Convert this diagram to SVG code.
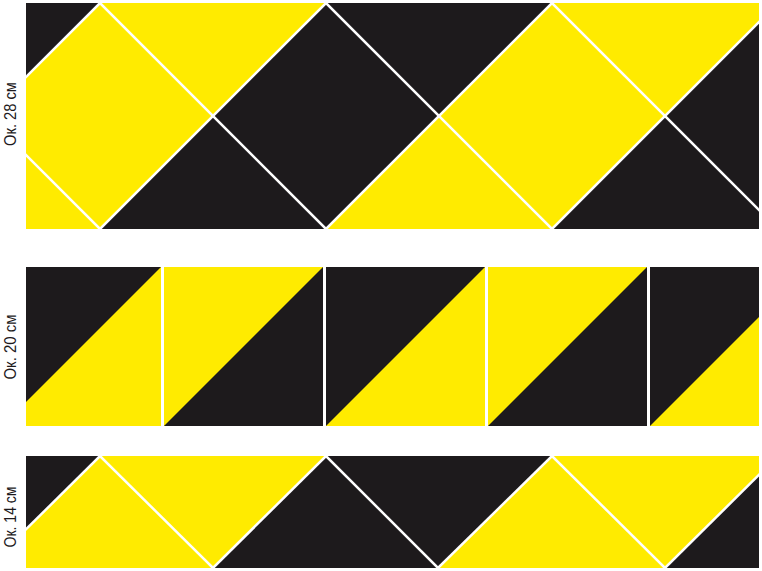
<svg xmlns="http://www.w3.org/2000/svg" width="762" height="571" viewBox="0 0 762 571">
<style>
.y{fill:#FFEB00}
.k{fill:#1D1A1C}
.ln{stroke:#FFFFFF;stroke-width:2.5;fill:none}
.lbl{font-family:"Liberation Sans","DejaVu Sans",sans-serif;font-size:17px;fill:#1D1A1C;text-anchor:middle}
</style>
<defs>
<clipPath id="cTop"><rect x="26" y="3" width="733" height="226"/></clipPath>
<clipPath id="cBot"><rect x="26" y="456" width="733" height="112"/></clipPath>
</defs>
<rect width="762" height="571" fill="#FFFFFF"/>

<g id="band28" clip-path="url(#cTop)">
  <rect class="k" x="26" y="3" width="733" height="226"/>
  <polygon class="y" points="-126,229 -13,116 100,3 326,3 213,116 100,229"/>
  <polygon class="y" points="326,229 439,116 552,3 778,3 665,116 552,229"/>
  <g id="band28-lines">
    <line class="ln" x1="-126" y1="3" x2="100" y2="229"/>
    <line class="ln" x1="100" y1="3" x2="326" y2="229"/>
    <line class="ln" x1="326" y1="3" x2="552" y2="229"/>
    <line class="ln" x1="552" y1="3" x2="778" y2="229"/>
    <line class="ln" x1="100" y1="3" x2="-126" y2="229"/>
    <line class="ln" x1="326" y1="3" x2="100" y2="229"/>
    <line class="ln" x1="552" y1="3" x2="326" y2="229"/>
    <line class="ln" x1="778" y1="3" x2="552" y2="229"/>
  </g>
</g>

<g id="band20">
  <g id="tile1">
    <rect class="k" x="26" y="267" width="135" height="159"/>
    <polygon class="y" points="26,402 161,267 161,426 26,426"/>
  </g>
  <g id="tile2">
    <rect class="y" x="164" y="267" width="159" height="159"/>
    <polygon class="k" points="323,267 323,426 164,426"/>
  </g>
  <g id="tile3">
    <rect class="k" x="326" y="267" width="159" height="159"/>
    <polygon class="y" points="485,267 485,426 326,426"/>
  </g>
  <g id="tile4">
    <rect class="y" x="488" y="267" width="159" height="159"/>
    <polygon class="k" points="647,267 647,426 488,426"/>
  </g>
  <g id="tile5">
    <rect class="k" x="650" y="267" width="109" height="159"/>
    <polygon class="y" points="650,426 759,317 759,426"/>
  </g>
</g>

<g id="band14" clip-path="url(#cBot)">
  <rect class="k" x="26" y="456" width="733" height="112"/>
  <polygon class="y" points="-13,568 100,456 326,456 213,568"/>
  <polygon class="y" points="438,568 552,456 778,456 665,568"/>
  <g id="band14-lines">
    <line class="ln" x1="-13" y1="568" x2="100" y2="456"/>
    <line class="ln" x1="100" y1="456" x2="213" y2="568"/>
    <line class="ln" x1="213" y1="568" x2="326" y2="456"/>
    <line class="ln" x1="326" y1="456" x2="438" y2="568"/>
    <line class="ln" x1="438" y1="568" x2="552" y2="456"/>
    <line class="ln" x1="552" y1="456" x2="665" y2="568"/>
    <line class="ln" x1="665" y1="568" x2="778" y2="456"/>
  </g>
</g>

<g id="labels">
  <text class="lbl" transform="translate(16,114) rotate(-90)" textLength="64" lengthAdjust="spacingAndGlyphs">Ок. 28 см</text>
  <text class="lbl" transform="translate(16,347) rotate(-90)" textLength="65" lengthAdjust="spacingAndGlyphs">Ок. 20 см</text>
  <text class="lbl" transform="translate(16,517) rotate(-90)" textLength="61" lengthAdjust="spacingAndGlyphs">Ок. 14 см</text>
</g>
</svg>
